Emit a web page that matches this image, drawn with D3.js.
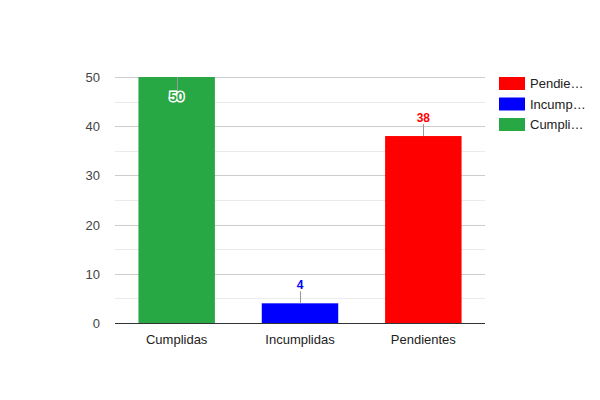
<!DOCTYPE html>
<html>
<head>
<meta charset="utf-8">
<script src="https://cdn.jsdelivr.net/npm/d3@7"></script>
<style>
body { margin: 0; background: #fff; }
text { font-family: Arial, "Liberation Sans", sans-serif; }
</style>
</head>
<body>
<svg id="chart" width="600" height="400"></svg>
<script>
// chart values
var categories = ["Cumplidas", "Incumplidas", "Pendientes"];
var values = [50, 4, 38];
var barColors = ["#28a745", "#0000ff", "#ff0000"];
var yTicks = [0, 10, 20, 30, 40, 50];
var legendLabels = ["Pendie\u2026", "Incump\u2026", "Cumpli\u2026"];
var legendColors = ["#ff0000", "#0000ff", "#28a745"];

var svg = d3.select("#chart");
var plotLeft = 115, plotRight = 485, plotTop = 77, plotBottom = 323;

var x = d3.scaleBand().domain(categories).range([plotLeft, plotRight]).paddingInner(0.38).paddingOuter(0.19);
var y = d3.scaleLinear().domain([0, 50]).range([plotBottom, plotTop]);

// minor gridlines
svg.append("g").selectAll("line").data(d3.range(5, 50, 10)).enter().append("line")
	.attr("x1", plotLeft).attr("x2", plotRight)
	.attr("y1", function(d){ return Math.round(y(d)) + 0.5; })
	.attr("y2", function(d){ return Math.round(y(d)) + 0.5; })
	.attr("stroke", "#ebebeb");

// major gridlines
svg.append("g").selectAll("line").data(yTicks.slice(1)).enter().append("line")
	.attr("x1", plotLeft).attr("x2", plotRight)
	.attr("y1", function(d){ return Math.round(y(d)) + 0.5; })
	.attr("y2", function(d){ return Math.round(y(d)) + 0.5; })
	.attr("stroke", "#cccccc");

// y tick labels
svg.append("g").selectAll("text").data(yTicks).enter().append("text")
	.attr("x", 100).attr("y", function(d){ return y(d) + 5; })
	.attr("text-anchor", "end").attr("font-size", "13px").attr("fill", "#444")
	.text(function(d){ return d; });

// bars
svg.append("g").selectAll("rect").data(values).enter().append("rect")
	.attr("x", function(d, i){ return x(categories[i]); })
	.attr("y", function(d){ return y(d); })
	.attr("width", x.bandwidth())
	.attr("height", function(d){ return plotBottom - y(d); })
	.attr("fill", function(d, i){ return barColors[i]; });

// baseline
svg.append("line").attr("x1", plotLeft).attr("x2", plotRight)
	.attr("y1", plotBottom + 0.5).attr("y2", plotBottom + 0.5).attr("stroke", "#333");

// annotations with stems
values.forEach(function(v, i){
	var cx = x(categories[i]) + x.bandwidth() / 2;
	var inside = y(v) - plotTop < 20;
	var g = svg.append("g");
	if(inside){
		g.append("line").attr("x1", Math.round(cx) + 0.5).attr("x2", Math.round(cx) + 0.5)
			.attr("y1", y(v)).attr("y2", y(v) + 13).attr("stroke", "#999");
		g.append("text").attr("x", cx).attr("y", y(v) + 24)
			.attr("text-anchor", "middle").attr("font-size", "13px").attr("font-weight", "bold")
			.attr("fill", barColors[i]).attr("stroke", "#fff").attr("stroke-width", 3)
			.attr("paint-order", "stroke").text(v);
	} else {
		g.append("line").attr("x1", Math.round(cx) + 0.5).attr("x2", Math.round(cx) + 0.5)
			.attr("y1", y(v)).attr("y2", y(v) - 12).attr("stroke", "#999");
		g.append("text").attr("x", cx).attr("y", y(v) - 14)
			.attr("text-anchor", "middle").attr("font-size", "12px").attr("font-weight", "bold")
			.attr("fill", barColors[i]).attr("stroke", "#fff").attr("stroke-width", 3)
			.attr("paint-order", "stroke").text(v);
	}
});

// x labels
svg.append("g").selectAll("text").data(categories).enter().append("text")
	.attr("x", function(d){ return x(d) + x.bandwidth() / 2; })
	.attr("y", 344).attr("text-anchor", "middle").attr("font-size", "13px").attr("fill", "#222")
	.text(function(d){ return d; });

// legend
var legend = svg.append("g").selectAll("g").data(legendLabels).enter().append("g")
	.attr("transform", function(d, i){ return "translate(499," + (77 + i * 20.5) + ")"; });
legend.append("rect").attr("width", 26).attr("height", 13)
	.attr("fill", function(d, i){ return legendColors[i]; });
legend.append("text").attr("x", 31).attr("y", 11).attr("font-size", "13px").attr("fill", "#222")
	.text(function(d){ return d; });
</script>
</body>
</html>
